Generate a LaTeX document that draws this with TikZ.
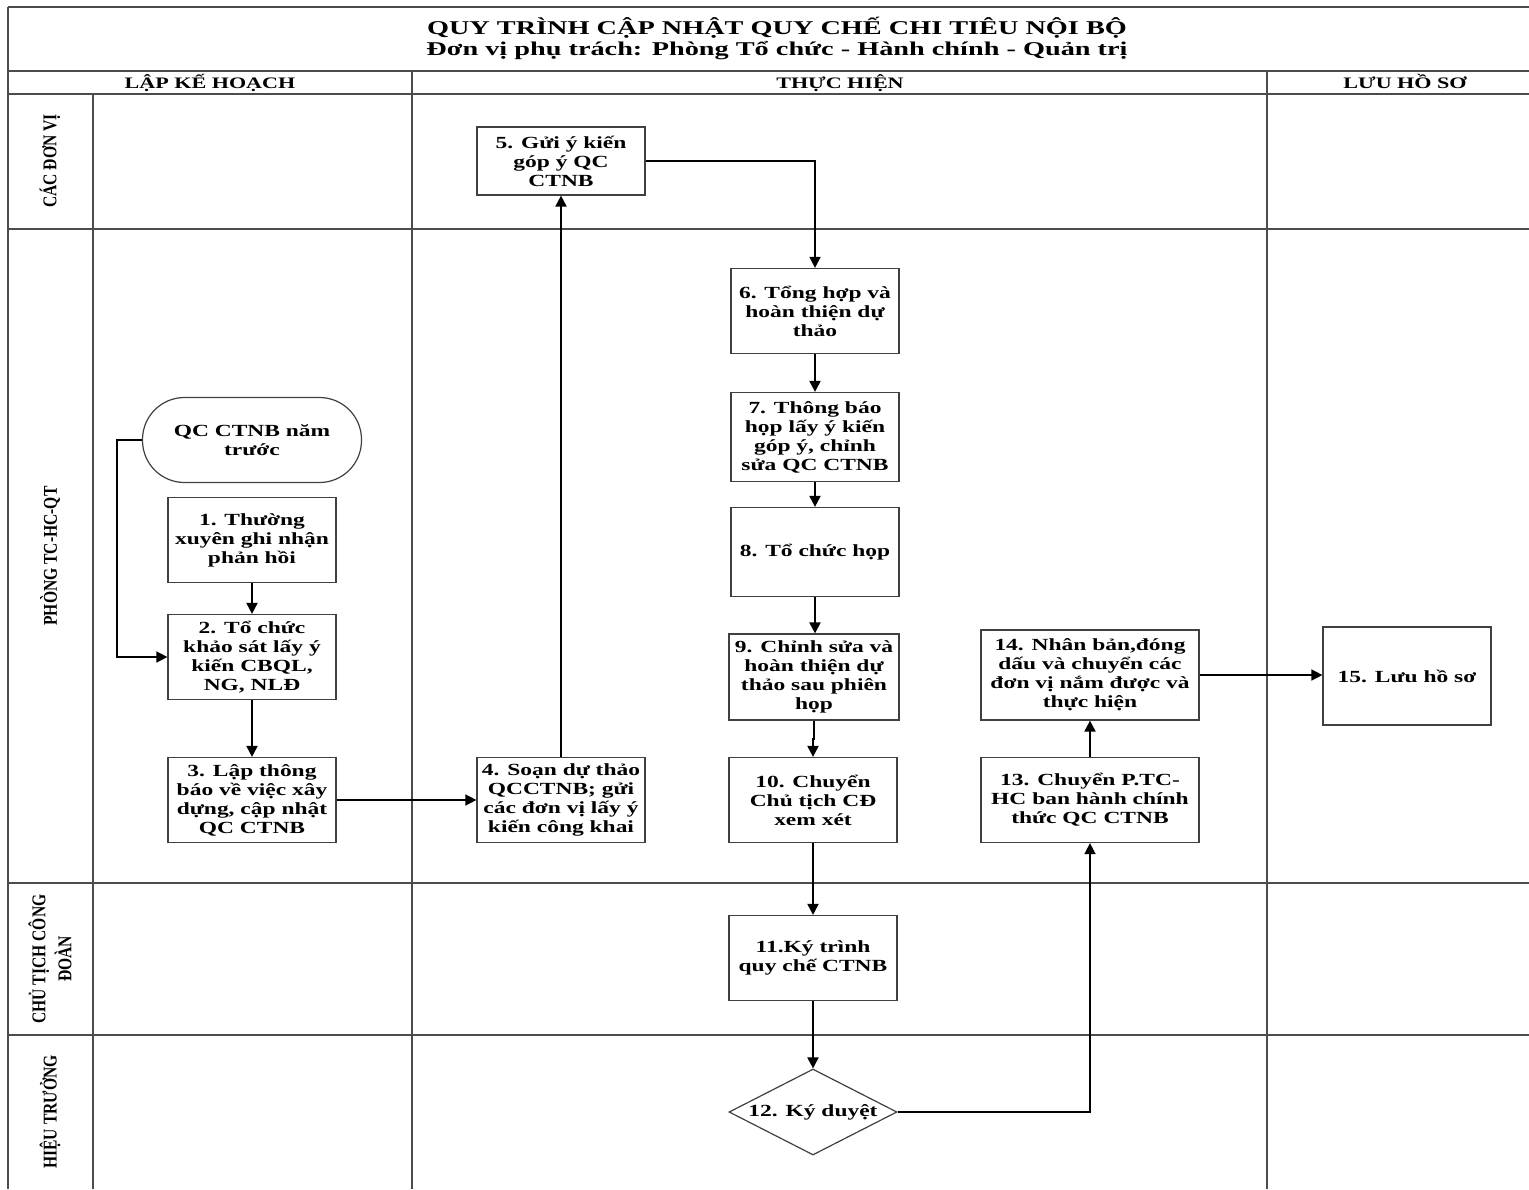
\documentclass[tikz,border=0pt]{standalone}
\usepackage{fontspec}
\setmainfont{Liberation Serif}
\newfontfamily\boxfont{Liberation Serif}[FakeStretch=1.38]
\newfontfamily\titlefont{Liberation Serif}[FakeStretch=1.45]
\newfontfamily\lanefont{Liberation Serif}[FakeStretch=0.8]
\usetikzlibrary{arrows.meta,shapes.geometric}
\begin{document}
\begin{tikzpicture}[x=1pt,y=-1pt,
  lane/.style={draw=black!70, line width=1.4pt},
  stepbox/.style={draw=black!75, line width=1.2pt, fill=white, minimum width=168pt, minimum height=85pt, inner sep=0pt, align=center, font=\boxfont\bfseries\fontsize{17}{19}\selectfont},
  headtext/.style={font=\boxfont\bfseries\fontsize{16}{19}\selectfont, inner sep=0pt, anchor=base},
  lanetext/.style={rotate=90, align=center, inner sep=0pt, font=\lanefont\bfseries\fontsize{19.5}{26}\selectfont},
  titletext/.style={font=\titlefont\bfseries\fontsize{19.5}{22}\selectfont, inner sep=0pt, anchor=base},
  flow/.style={line width=2pt, -{Triangle[length=11pt,width=11pt]}},
  flowh/.style={line width=1.5pt, -{Triangle[length=11pt,width=11pt]}}
]
\useasboundingbox (0,0) rectangle (1529,1189);
% frame and lanes
\draw[lane] (8,7) -- (1529,7);
\draw[lane] (8,71) -- (1529,71);
\draw[lane] (8,94) -- (1529,94);
\draw[lane] (8,229) -- (1529,229);
\draw[lane] (8,883) -- (1529,883);
\draw[lane] (8,1035) -- (1529,1035);
\draw[lane] (8,7) -- (8,1189);
\draw[lane] (93,94) -- (93,1189);
\draw[lane] (412,71) -- (412,1189);
\draw[lane] (1267,71) -- (1267,1189);
% titles
\node[titletext] (title) at (777,34) {QUY TRÌNH CẬP NHẬT QUY CHẾ CHI TIÊU NỘI BỘ};
\node[titletext] (subtitle) at (777,55) {Đơn vị phụ trách: Phòng Tổ chức - Hành chính - Quản trị};
\node[headtext] (h1) at (210,88) {LẬP KẾ HOẠCH};
\node[headtext] (h2) at (840,88) {THỰC HIỆN};
\node[headtext] (h3) at (1405,88) {LƯU HỒ SƠ};
\node[lanetext] (l1) at (50,161) {CÁC ĐƠN VỊ};
\node[lanetext] (l2) at (50,556) {PHÒNG TC-HC-QT};
\node[lanetext] (l3) at (50,959) {CHỦ TỊCH CÔNG\\ĐOÀN};
\node[lanetext] (l4) at (50,1112) {HIỆU TRƯỞNG};
% steps
\node[stepbox, minimum width=219pt, rounded corners=42pt] (n0) at (252,440) {QC CTNB năm\\trước};
\node[stepbox] (n1) at (252,540) {1. Thường\\xuyên ghi nhận\\phản hồi};
\node[stepbox] (n2) at (252,657) {2. Tổ chức\\khảo sát lấy ý\\kiến CBQL,\\NG, NLĐ};
\node[stepbox] (n3) at (252,800) {3. Lập thông\\báo về việc xây\\dựng, cập nhật\\QC CTNB};
\node[stepbox] (n4) at (561,800) {4. Soạn dự thảo\\QCCTNB; gửi\\các đơn vị lấy ý\\kiến công khai};
\node[stepbox, minimum height=68pt] (n5) at (561,161) {5. Gửi ý kiến\\góp ý QC\\CTNB};
\node[stepbox] (n6) at (815,311) {6. Tổng hợp và\\hoàn thiện dự\\thảo};
\node[stepbox, minimum height=89pt] (n7) at (815,437) {7. Thông báo\\họp lấy ý kiến\\góp ý, chỉnh\\sửa QC CTNB};
\node[stepbox, minimum height=89pt] (n8) at (815,552) {8. Tổ chức họp};
\node[stepbox, minimum width=170pt, minimum height=86pt] (n9) at (814,677) {9. Chỉnh sửa và\\hoàn thiện dự\\thảo sau phiên\\họp};
\node[stepbox] (n10) at (813,800) {10. Chuyển\\Chủ tịch CĐ\\xem xét};
\node[stepbox] (n11) at (813,958) {11.Ký trình\\quy chế CTNB};
\node[draw=black!75, line width=1.2pt, fill=white, diamond, minimum width=168pt, minimum height=86pt, inner sep=0pt] (n12) at (813,1112) {};
\node[font=\boxfont\bfseries\fontsize{17}{19}\selectfont, inner sep=0pt] (t12) at (n12.center) {12. Ký duyệt};
\node[stepbox, minimum width=218pt] (n13) at (1090,800) {13. Chuyển P.TC-\\HC ban hành chính\\thức QC CTNB};
\node[stepbox, minimum width=218pt, minimum height=90pt] (n14) at (1090,675) {14. Nhân bản,đóng\\dấu và chuyển các\\đơn vị nắm được và\\thực hiện};
\node[stepbox, minimum height=98pt] (n15) at (1407,676) {15. Lưu hồ sơ};
% connectors
\draw[flowh] (n0.west) -- ++(-25,0) |- (n2.west);
\draw[flow] (n1) -- (n2);
\draw[flow] (n2) -- (n3);
\draw[flowh] (n3) -- (n4);
\draw[flow] (n4) -- (n5);
\draw[flowh] (n5.east) -| (n6.north);
\draw[flow] (n6) -- (n7);
\draw[flow] (n7) -- (n8);
\draw[flow] (n8.south) -- (n8.south |- n9.north);
\draw[flow] (n9.south) -- ++(0,18) -| (n10.north);
\draw[flow] (n10) -- (n11);
\draw[flow] (n11) -- (n12);
\draw[flowh] (n12.east) -| (n13.south);
\draw[flow] (n13) -- (n14);
\draw[flowh] (n14.east) -- (n14.east -| n15.west);
\end{tikzpicture}
\end{document}
